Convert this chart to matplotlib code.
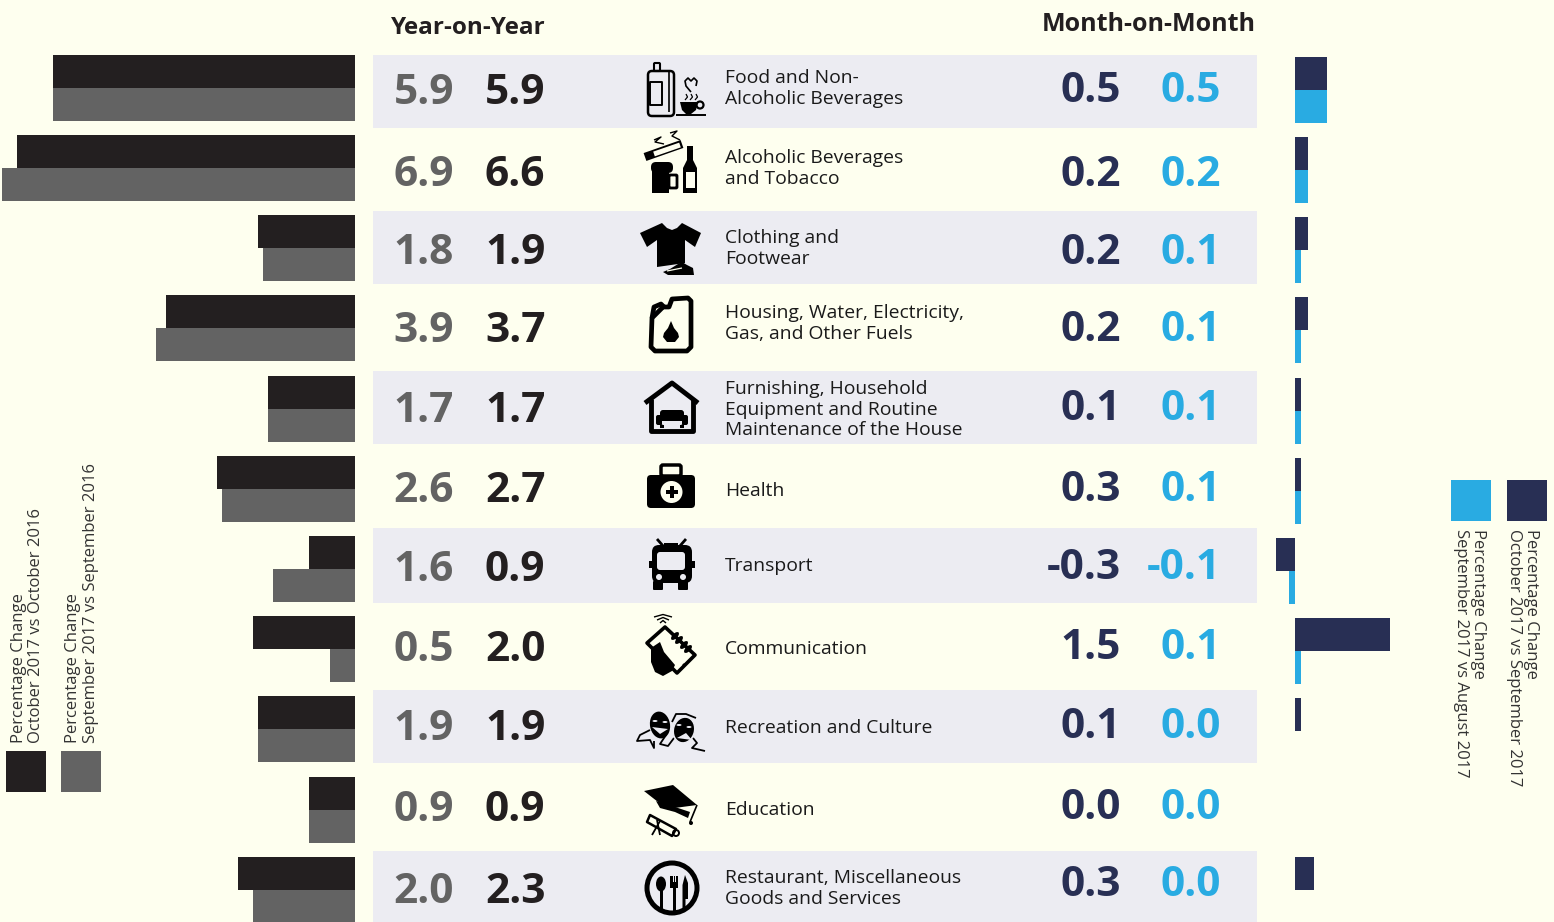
import matplotlib
matplotlib.use('Agg')
import matplotlib.pyplot as plt
from matplotlib.patches import Circle, Ellipse, FancyBboxPatch, Polygon, Rectangle

plt.rcParams['font.family'] = ['Open Sans', 'DejaVu Sans']

categories = ['Food and Non-\nAlcoholic Beverages', 'Alcoholic Beverages\nand Tobacco',
              'Clothing and\nFootwear', 'Housing, Water, Electricity,\nGas, and Other Fuels',
              'Furnishing, Household\nEquipment and Routine\nMaintenance of the House',
              'Health', 'Transport', 'Communication', 'Recreation and Culture',
              'Education', 'Restaurant, Miscellaneous\nGoods and Services']
yoy_sep = [5.9, 6.9, 1.8, 3.9, 1.7, 2.6, 1.6, 0.5, 1.9, 0.9, 2.0]
yoy_oct = [5.9, 6.6, 1.9, 3.7, 1.7, 2.7, 0.9, 2.0, 1.9, 0.9, 2.3]
mom_oct = [0.5, 0.2, 0.2, 0.2, 0.1, 0.3, -0.3, 1.5, 0.1, 0.0, 0.3]
mom_sep = [0.5, 0.2, 0.1, 0.1, 0.1, 0.1, -0.1, 0.1, 0.0, 0.0, 0.0]
# the health bar is drawn shorter than its printed 0.3
mom_oct_bars = [0.5, 0.2, 0.2, 0.2, 0.1, 0.1, -0.3, 1.5, 0.1, 0.0, 0.3]

BG = '#feffef'
BAND = '#ececf2'
BLACK = '#231f20'
GREY = '#636363'
NAVY = '#282f54'
CYAN = '#29abe2'
TEXT = '#333333'

W, H = 1554, 922
fig = plt.figure(figsize=(15.54, 9.22), dpi=100, facecolor=BG)

# background axes in pixel coordinates, for bands, text and icons
bg = fig.add_axes([0, 0, 1, 1])
bg.set_xlim(0, W)
bg.set_ylim(H, 0)
bg.axis('off')

n = len(categories)
row_top = [54.8 + 80.2 * i for i in range(n)]

band_rows = [(55, 128), (211, 284), (371, 444), (528, 603), (690, 763), (851, 922)]
for y0, y1 in band_rows:
    bg.add_patch(Rectangle((373, y0), 884, y1 - y0, color=BAND, lw=0))

# left bars
left = fig.add_axes([0, 0, 355.4 / W, 1])
left.set_xlim(355.4 / 51.2, 0)
left.set_ylim(H, 0)
left.axis('off')
left.barh(row_top, yoy_oct, height=33, align='edge', color=BLACK, lw=0)
left.barh([y + 33 for y in row_top], yoy_sep, height=33, align='edge', color=GREY, lw=0)

# right bars, the last row sits 2px higher
right_top = [y + 2 for y in row_top[:-1]] + [row_top[-1]]
right = fig.add_axes([1270 / W, 0, 130 / W, 1])
right.set_xlim(-25 / 63.5, 105 / 63.5)
right.set_ylim(H, 0)
right.axis('off')
right.barh(right_top, mom_oct_bars, height=33, align='edge', color=NAVY, lw=0)
right.barh([y + 33 for y in right_top], mom_sep, height=33, align='edge', color=CYAN, lw=0)

# numbers
y_yoy = [89, 172, 249, 327, 407, 487, 566, 646, 725, 806, 888]
y_mom = [88, 172, 249, 326, 405, 486, 564, 644, 723, 804, 881]
y_cat = [87, 167, 247, 322, 408, 489, 564, 647, 726, 808, 887]
for i in range(n):
    kw = dict(fontsize=30.5, fontweight='bold', ha='right', va='center_baseline')
    bg.text(454, y_yoy[i] - 1, f'{yoy_sep[i]:.1f}', color=GREY, **kw)
    bg.text(545.5, y_yoy[i] - 1, f'{yoy_oct[i]:.1f}', color=BLACK, **kw)
    bg.text(1121, y_mom[i] - 1, f'{mom_oct[i]:.1f}', color=NAVY, **kw)
    bg.text(1221, y_mom[i] - 1, f'{mom_sep[i]:.1f}', color=CYAN, **kw)
    bg.text(725, y_cat[i] + 1.5, categories[i], fontsize=13.9, color='#1a1a1a', ha='left', va='center', linespacing=1.2)

bg.text(468, 27.5, 'Year-on-Year', fontsize=17.5, fontweight='bold', color=BLACK, ha='center', va='center')
bg.text(1149, 24.5, 'Month-on-Month', fontsize=18, fontweight='bold', color=BLACK, ha='center', va='center')

# legends
bg.add_patch(Rectangle((6, 751), 40, 41, color=BLACK, lw=0))
bg.add_patch(Rectangle((61, 751), 40, 41, color=GREY, lw=0))
bg.add_patch(Rectangle((1451, 480), 40, 41, color=CYAN, lw=0))
bg.add_patch(Rectangle((1507, 480), 40, 41, color=NAVY, lw=0))
leg = dict(fontsize=12, color=TEXT, multialignment='left', linespacing=1.1)
bg.text(27.5, 743, 'Percentage Change\nOctober 2017 vs October 2016', rotation=90, ha='center', va='bottom', **leg)
bg.text(82, 743, 'Percentage Change\nSeptember 2017 vs September 2016', rotation=90, ha='center', va='bottom', **leg)
bg.text(1469.5, 529, 'Percentage Change\nSeptember 2017 vs August 2017', rotation=270, ha='center', va='top', **leg)
bg.text(1522.5, 529, 'Percentage Change\nOctober 2017 vs September 2017', rotation=270, ha='center', va='top', **leg)


# icon helpers
def poly(pts, c='black', z=5):
    bg.add_patch(Polygon(pts, closed=True, fc=c, ec='none', zorder=z))


def outline(pts, lw=2.0, closed=False, c='black', z=5):
    bg.add_patch(Polygon(pts, closed=closed, fc='none', ec=c, lw=lw, zorder=z, joinstyle='round'))


def circ(x, y, r, c='black', z=6):
    bg.add_patch(Circle((x, y), r, fc=c, ec='none', zorder=z))


def rect(x, y, w, h, c='black', z=5, rad=0):
    if rad:
        bg.add_patch(FancyBboxPatch((x + rad, y + rad), w - 2 * rad, h - 2 * rad,
                                    boxstyle=f'round,pad={rad}', fc=c, ec='none', zorder=z))
    else:
        bg.add_patch(Rectangle((x, y), w, h, fc=c, ec='none', zorder=z))


def box(x, y, w, h, rad=2, lw=2.0, z=5):
    bg.add_patch(FancyBboxPatch((x + rad, y + rad), w - 2 * rad, h - 2 * rad, boxstyle=f'round,pad={rad}',
                                fc='none', ec='black', lw=lw, zorder=z))


# food: can and coffee cup
box(648, 71, 26, 45, rad=4, lw=1.8)
outline([(650, 82), (662, 82), (662, 105), (650, 105)], lw=1.4, closed=True)
outline([(669, 72), (669, 112)], lw=1.2)
box(654, 63, 6, 8, rad=1, lw=1.5)
outline([(691, 92), (686, 86), (685, 81), (688, 78), (691, 81), (694, 78), (697, 81), (696, 86), (691, 92)], lw=1.2)
for sx in (686, 691, 696):
    outline([(sx, 94), (sx + 1.5, 97), (sx - 1, 100)], lw=0.9)
poly([(680, 102), (698, 102), (696, 110), (691, 114), (686, 114), (682, 110)])
bg.add_patch(Circle((700, 105), 3.5, fc='none', ec='black', lw=1.6, zorder=5))
outline([(676, 115), (706, 115)], lw=1.4)

# alcohol and tobacco
outline([(645, 157), (682, 144)], lw=6)
outline([(654, 154), (680, 145)], lw=3.6, c=BG)
outline([(654, 140), (661, 137), (655, 142), (664, 144)], lw=1)
outline([(670, 133), (677, 131), (672, 136), (680, 140)], lw=1)
rect(651, 162, 22, 11, rad=5)
rect(652, 168, 17, 25)
box(669, 175, 8, 13, rad=1, lw=2)
rect(687, 146, 6, 17)
poly([(687, 160), (693, 160), (697, 168), (697, 193), (683, 193), (683, 168)])
rect(685.5, 172, 9, 16, c=BG, z=6)

# clothing
poly([(662, 223), (667, 228), (672, 230), (677, 228), (682, 223), (701, 233), (695, 247), (685, 240),
      (685, 263), (657, 267), (657, 240), (647, 247), (640, 233)])
poly([(663, 272), (670, 269), (678, 264), (682, 262), (687, 265), (693, 268), (694, 275), (668, 275)])
outline([(667, 271), (682, 268)], lw=0.9, c=BG, z=6)

# jerry can
outline([(652, 318), (663, 307), (669, 307), (672, 299), (688, 298), (691, 301), (691, 347), (687, 351),
         (655, 351), (651, 347)], lw=3.4, closed=True)
outline([(652, 318), (654, 307), (661, 304), (665, 308)], lw=3.4)
poly([(671, 321), (674, 328), (678, 333), (679, 337), (675, 342), (667, 342), (663, 337), (664, 333), (668, 328)])

# house with sofa
outline([(645, 403), (672, 383), (698, 403)], lw=3.5)
outline([(651, 399), (651, 431), (693, 431), (693, 399)], lw=3.5)
rect(660, 410, 24, 12, rad=3)
rect(656, 415, 7, 10, rad=2)
rect(681, 415, 7, 10, rad=2)
rect(660, 425, 4, 3)
rect(680, 425, 4, 3)
rect(662, 421, 20, 2.5, c=BAND, z=6)

# health case
rect(647, 475, 48, 33, rad=4)
box(661, 465, 20, 11, rad=2, lw=2.5)
circ(671.5, 492, 11, c=BG)
rect(669.5, 486, 4.5, 12, z=7)
rect(665.5, 489.5, 12, 4.5, z=7)

# bus
rect(652, 545, 40, 38, rad=7)
rect(657, 552, 28, 18, c=BAND, z=6, rad=3)
circ(659, 577, 3, c=BAND)
circ(683, 577, 3, c=BAND)
rect(653, 581, 10, 9, rad=1)
rect(678, 581, 10, 9, rad=1)
rect(649, 561, 4, 7)
rect(691, 561, 4, 7)
outline([(657, 539), (664, 547)], lw=2)
outline([(686, 539), (679, 547)], lw=2)
rect(664, 543, 14, 2)

# phone in hand
outline([(665, 627), (695, 655), (677, 673), (647, 643)], lw=2.6, closed=True)
poly([(651, 648), (660, 642), (664, 652), (675, 665), (672, 671), (663, 676), (655, 672), (651, 662)])
for fx, fy in [(675, 636), (679, 640), (684, 645), (688, 649)]:
    bg.add_patch(Ellipse((fx, fy), 10, 5, angle=-45, fc='black', ec='none', zorder=6))
circ(684, 665, 1.5, c='black')
for r, p in [(3, 623), (6, 620), (9, 617)]:
    outline([(663 - r, p), (663, p - 2.5), (663 + r, p)], lw=1)

# masks
bg.add_patch(Ellipse((660, 725), 20, 27, angle=-10, fc='black', ec='none', zorder=5))
bg.add_patch(Ellipse((684, 730), 21, 26, angle=15, fc='black', ec=BAND, lw=1, zorder=6))
for ex, ey in [(655, 721), (665, 722), (679, 725), (689, 727)]:
    bg.add_patch(Ellipse((ex, ey), 5, 2, fc=BAND, ec='none', zorder=7))
poly([(652, 727), (668, 729), (660, 734)], c=BAND, z=7)
poly([(677, 738), (686, 733), (692, 740)], c=BAND, z=7)
outline([(650, 730), (640, 735), (637, 741), (650, 740), (654, 748), (654, 741)], lw=1.3)
outline([(674, 738), (668, 746), (660, 744), (666, 735)], lw=1.3)
outline([(693, 738), (697, 743), (692, 748), (705, 751)], lw=1.3)
outline([(672, 722), (676, 714), (686, 714), (696, 718)], lw=1.3)

# graduation cap and scroll
poly([(644, 791), (673, 785), (697, 805), (667, 809)])
poly([(656, 801), (672, 806), (690, 812), (688, 818), (675, 812), (660, 808)])
outline([(697, 805), (690, 822)], lw=1.2)
circ(691, 823, 2, z=6)
outline([(650, 815), (676, 829), (672, 836), (647, 822)], lw=1.8, closed=True)
bg.add_patch(Circle((676, 833), 3, fc='none', ec='black', lw=1.4, zorder=5))
outline([(652, 835), (660, 821)], lw=1.3)
outline([(660, 835), (657, 820)], lw=1.3)

# restaurant
bg.add_patch(Circle((672, 888), 25, fc='none', ec='black', lw=3.6, zorder=5))
bg.add_patch(Ellipse((661, 884), 10, 15, fc='black', ec='none', zorder=5))
rect(659.5, 888, 3, 23)
rect(670, 876, 8, 12)
rect(672.5, 876, 1, 6, c=BAND, z=6)
rect(675, 876, 1, 6, c=BAND, z=6)
rect(672.5, 886, 3, 26)
poly([(685, 875), (688, 883), (688, 899), (685.5, 899), (685.5, 911), (682.5, 911), (682.5, 885)])

fig.savefig('out.png', dpi=100, facecolor=BG)
